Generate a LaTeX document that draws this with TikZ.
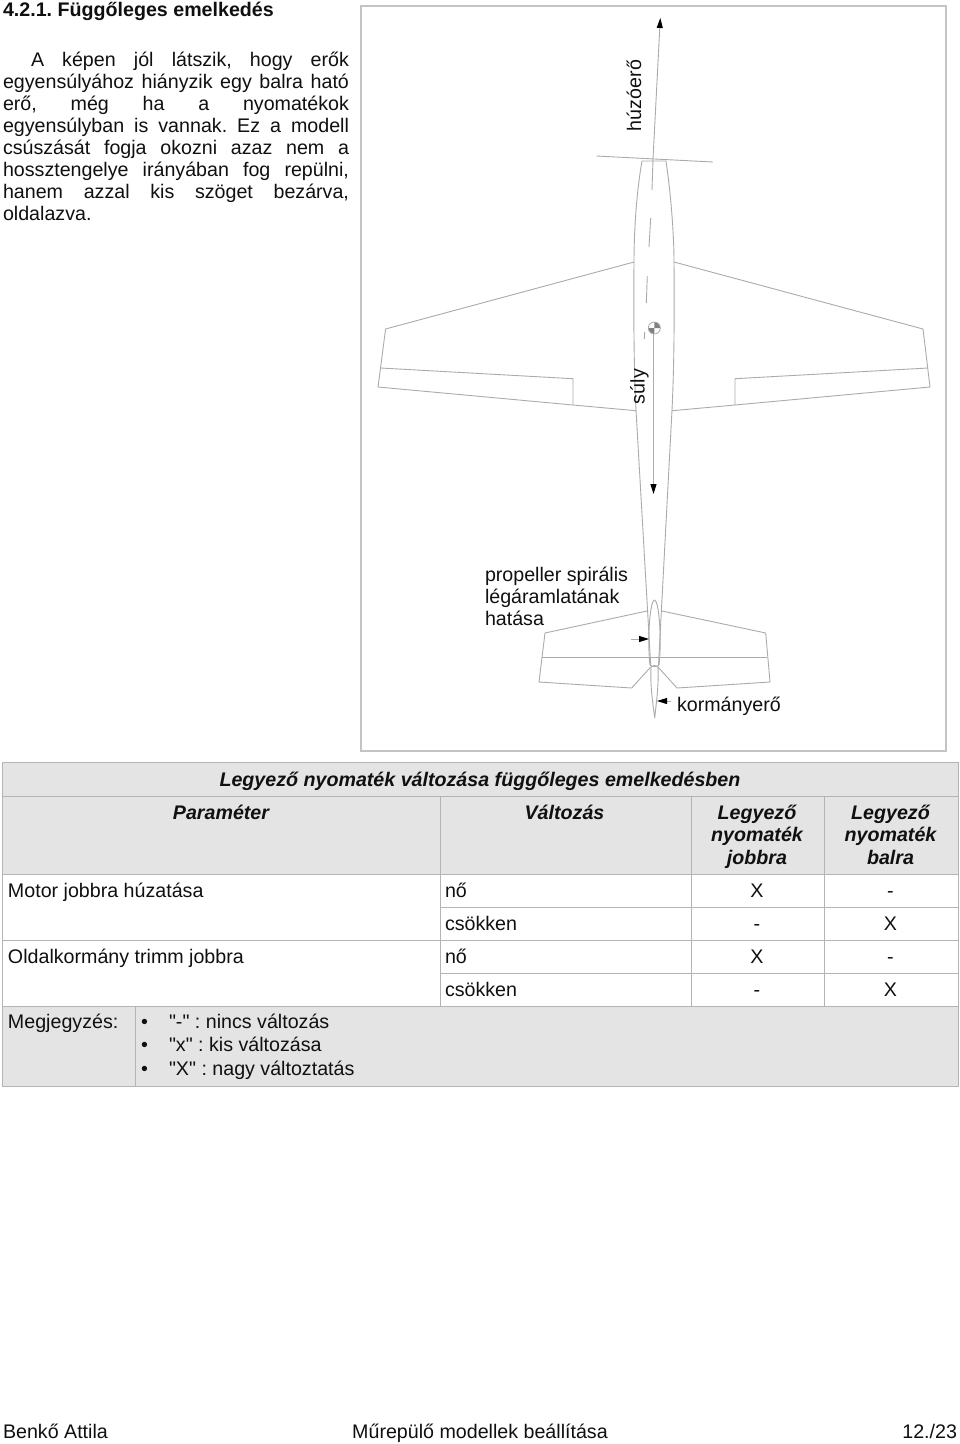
\documentclass[tikz,border=0pt]{standalone}
\usepackage{fontspec}
\setmainfont{Liberation Sans}
\newfontfamily\qf{Liberation Sans}
\usetikzlibrary{arrows.meta}
\definecolor{plane}{HTML}{ABABAB}
\definecolor{frameg}{HTML}{C4C4C4}
\definecolor{cellg}{HTML}{E4E4E4}
\definecolor{rule}{HTML}{B4B4B4}
\definecolor{ink}{HTML}{101010}
\frenchspacing
\tikzset{
 txt/.style={inner sep=0pt,outer sep=0pt,text=ink,font=\fontsize{19.65}{22}\selectfont},
 lab/.style={txt,anchor=base west},
 ctr/.style={txt,anchor=base},
 hdr/.style={ctr,font=\fontsize{19.65}{22}\selectfont\bfseries\itshape},
 pl/.style={draw=plane,line width=0.9pt,line join=round},
 arr/.style={draw=plane,line width=0.9pt,-{Triangle[length=10pt,width=6pt,color=black]}},
 cl/.style={draw=plane,line width=0.9pt},
 tl/.style={draw=rule,line width=1pt},
}
\begin{document}
\begin{tikzpicture}[x=1pt,y=-1pt]
\useasboundingbox (0,0) rectangle (960,1444);
\fill[white] (0,0) rectangle (960,1444);

% heading and paragraph
\node[lab,font=\fontsize{19.65}{22}\selectfont\bfseries] (title) at (3,16) {4.2.1. Függőleges emelkedés};
\node[lab] (p1) at (31,66) {\makebox[318pt][s]{A képen jól látszik, hogy erők}};
\node[lab] (p2) at (3,88) {\makebox[346pt][s]{egyensúlyához hiányzik egy balra ható}};
\node[lab] (p3) at (3,110) {\makebox[346pt][s]{erő, még ha a nyomatékok}};
\node[lab] (p4) at (3,132) {\makebox[346pt][s]{egyensúlyban is vannak. Ez a modell}};
\node[lab] (p5) at (3,154) {\makebox[346pt][s]{csúszását fogja okozni azaz nem a}};
\node[lab] (p6) at (3,176) {\makebox[346pt][s]{hossztengelye irányában fog repülni,}};
\node[lab] (p7) at (3,198) {\makebox[346pt][s]{hanem azzal kis szöget bezárva,}};
\node[lab] (p8) at (3,220) {oldalazva.};

% figure frame
\draw[frameg,line width=1.5pt] (361,6) rectangle (946,751);

% fuselage
\draw[pl] (642,161) -- (666,161)
  .. controls (671,195) and (674,235) .. (674,262)
  .. controls (674.5,320) and (674,370) .. (672,410)
  -- (658.5,665);
\draw[pl] (642,161)
  .. controls (636,195) and (634,235) .. (634,262)
  .. controls (633.5,320) and (634,370) .. (636,410)
  -- (650.7,665);
% propeller
\draw[pl] (596.5,156) -- (713,162);
% wings
\draw[pl] (634,262) -- (385.6,329) -- (378,387) -- (573,405) -- (636,410.7);
\draw[pl] (380.6,368) -- (573,378.7) -- (573,405);
\draw[pl] (674,262) -- (923,329) -- (930,387) -- (735,405) -- (672,410.7);
\draw[pl] (928,368) -- (735,378.7) -- (735,405);
% tailplane
\draw[pl] (647,611) -- (545,633) -- (539,682) -- (631.7,688) -- (650.7,667);
\draw[pl] (662,611) -- (765.7,633) -- (770,682) -- (677,688) -- (658,667);
\draw[pl] (541.7,657.7) -- (767,657.7);
% fin and rudder
\draw[pl] (650,665) .. controls (647,640) and (650,600) .. (654.5,600)
  .. controls (659,600) and (662,640) .. (659,665) .. controls (656,667) and (653,667) .. (650,665);
\draw[pl] (651,667) .. controls (653,665) and (656,665) .. (658,667)
  .. controls (659,685) and (656,705) .. (654.7,718)
  .. controls (653,705) and (650,685) .. (651,667);
% centre line
\draw[cl] (653,159) -- (652,190);
\draw[cl] (650.7,218) -- (649,247);
\draw[cl] (647.3,276) -- (646.3,303);
\draw[cl] (644.7,332) -- (644.3,339);

% centre of gravity mark
\coordinate (cg) at (654.3,328);
\fill[white] (cg) circle (6);
\fill[gray] (cg) -- ++(6,0) arc[start angle=0,end angle=-90,radius=6] -- cycle;
\fill[gray] (cg) -- ++(-6,0) arc[start angle=180,end angle=90,radius=6] -- cycle;
\draw[plane,line width=0.8pt] (cg) circle (6);

% force arrows
\coordinate (thrustA) at (653,159);
\coordinate (thrustB) at (660.3,18);
\draw[arr] (thrustA) -- (thrustB);
\coordinate (weightA) at (653.5,334);
\coordinate (weightB) at (653.5,494);
\draw[arr] (weightA) -- (weightB);
\coordinate (spiralA) at (631,639);
\coordinate (spiralB) at (649,639);
\draw[arr] (spiralA) -- (spiralB);
\coordinate (rudderA) at (671,701);
\coordinate (rudderB) at (657,701);
\draw[arr] (rudderA) -- (rudderB);

% figure labels
\node[lab,rotate=90] (huzo) at (641,131) {húzóerő};
\node[lab,rotate=90] (suly) at (644.5,404) {súly};
\node[lab] (sp1) at (485,581) {propeller spirális};
\node[lab] (sp2) at (485,603) {légáramlatának};
\node[lab] (sp3) at (485,625) {hatása};
\node[lab] (korm) at (677,711) {kormányerő};

% table fills
\fill[cellg] (2.5,762.5) rectangle (958,874.5);
\fill[cellg] (2.5,1006) rectangle (958,1086);
% table rules
\draw[tl] (2.5,762.5) rectangle (958,1086);
\draw[tl] (2.5,796) -- (958,796);
\draw[tl] (2.5,874.5) -- (958,874.5);
\draw[tl] (440,907) -- (958,907);
\draw[tl] (2.5,940.5) -- (958,940.5);
\draw[tl] (440,973.5) -- (958,973.5);
\draw[tl] (2.5,1006) -- (958,1006);
\draw[tl] (440,796) -- (440,1006);
\draw[tl] (691,796) -- (691,1006);
\draw[tl] (824,796) -- (824,1006);
\draw[tl] (135.5,1006) -- (135.5,1086);

% table text
\node[hdr] (t0) at (480,786) {Legyező nyomaték változása függőleges emelkedésben};
\node[hdr] (h1) at (221,819.3) {Paraméter};
\node[hdr] (h2) at (564.5,819.3) {Változás};
\node[hdr] (h3a) at (757,819.3) {Legyező};
\node[hdr] (h3b) at (757,841.7) {nyomaték};
\node[hdr] (h3c) at (757,864) {jobbra};
\node[hdr] (h4a) at (890.5,819.3) {Legyező};
\node[hdr] (h4b) at (890.5,841.7) {nyomaték};
\node[hdr] (h4c) at (890.5,864) {balra};

\node[lab] (r1) at (8,897) {Motor jobbra húzatása};
\node[lab] (r1a) at (445,897) {nő};
\node[ctr] (r1b) at (757,897) {X};
\node[ctr] (r1c) at (890.5,897) {-};
\node[lab] (r2a) at (445,930) {csökken};
\node[ctr] (r2b) at (757,930) {-};
\node[ctr] (r2c) at (890.5,930) {X};
\node[lab] (r3) at (8,963) {Oldalkormány trimm jobbra};
\node[lab] (r3a) at (445,963) {nő};
\node[ctr] (r3b) at (757,963) {X};
\node[ctr] (r3c) at (890.5,963) {-};
\node[lab] (r4a) at (445,996) {csökken};
\node[ctr] (r4b) at (757,996) {-};
\node[ctr] (r4c) at (890.5,996) {X};

\node[lab] (m0) at (8,1028.7) {Megjegyzés:};
\node[ctr] (b1) at (144.5,1028.7) {•};
\node[ctr] (b2) at (144.5,1051.7) {•};
\node[ctr] (b3) at (144.5,1075) {•};
\node[lab] (m1) at (169,1028.7) {\qf "-" : nincs változás};
\node[lab] (m2) at (169,1051.7) {\qf "x" : kis változása};
\node[lab] (m3) at (169,1075) {\qf "X" : nagy változtatás};

% footer
\node[lab] (f1) at (3,1438) {Benkő Attila};
\node[ctr] (f2) at (480,1438) {Műrepülő modellek beállítása};
\node[txt,anchor=base east] (f3) at (957,1438) {12./23};
\end{tikzpicture}
\end{document}
